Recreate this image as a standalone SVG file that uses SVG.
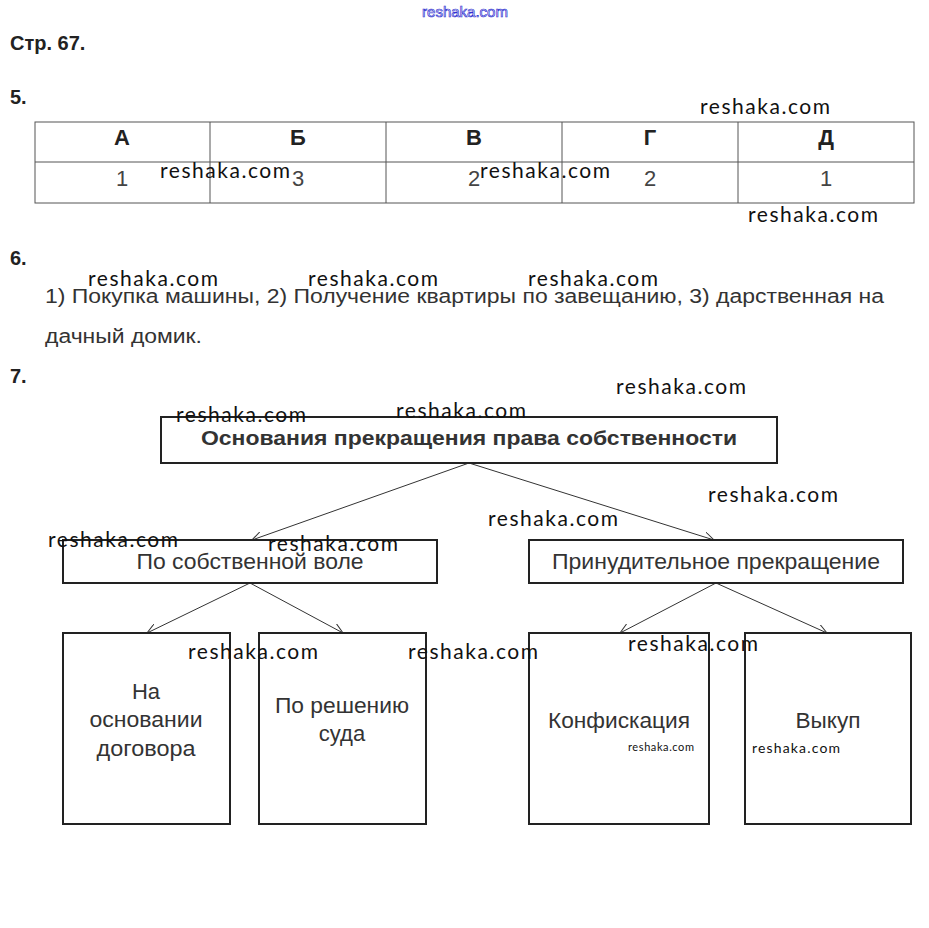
<svg xmlns="http://www.w3.org/2000/svg" width="929" height="928" viewBox="0 0 929 928">
<defs>
<style>
.h{font-family:"Liberation Sans",Arial,sans-serif;font-weight:bold;font-size:20px;fill:#222}
.t{font-family:"Liberation Sans",Arial,sans-serif;font-size:20px;fill:#333}
.th{font-family:"Liberation Sans",Arial,sans-serif;font-weight:bold;font-size:22px;fill:#222;text-anchor:middle}
.tv{font-family:"Liberation Sans",Arial,sans-serif;font-size:22px;fill:#444;text-anchor:middle}
.w{font-family:Lato,"Open Sans",sans-serif;fill:#111}
.box{fill:#fff;stroke:#222;stroke-width:2}
.grid{stroke:#555;stroke-width:1;fill:none}
.c{stroke:#333;stroke-width:1;fill:none}
.n{font-family:"Liberation Sans",Arial,sans-serif;font-size:22px;fill:#333;text-anchor:middle}
</style>
<marker id="ah" viewBox="0 0 10 10" refX="10" refY="5" markerWidth="10" markerHeight="10" markerUnits="userSpaceOnUse" orient="auto">
<path d="M0,0 L10,5 L0,10" fill="none" stroke="#333" stroke-width="1"/>
</marker>
</defs>
<rect width="929" height="928" fill="#fff"/>
<text x="465" y="17" text-anchor="middle" font-family="Liberation Sans,Arial,sans-serif" font-size="15" fill="#fff" stroke="#3030d0" stroke-width="0.7">reshaka.com</text>
<text class="h" x="10" y="50">Стр. 67.</text>
<text class="h" x="10" y="104">5.</text>
<g id="table">
<rect class="grid" x="35" y="122" width="879" height="81"/>
<line class="grid" x1="35" y1="162" x2="914" y2="162"/>
<line class="grid" x1="210" y1="122" x2="210" y2="203"/>
<line class="grid" x1="386" y1="122" x2="386" y2="203"/>
<line class="grid" x1="562" y1="122" x2="562" y2="203"/>
<line class="grid" x1="738" y1="122" x2="738" y2="203"/>
<text class="th" x="122" y="145">А</text>
<text class="th" x="298" y="145">Б</text>
<text class="th" x="474" y="145">В</text>
<text class="th" x="650" y="145">Г</text>
<text class="th" x="826" y="145">Д</text>
<text class="tv" x="122" y="186">1</text>
<text class="tv" x="298" y="186">3</text>
<text class="tv" x="474" y="186">2</text>
<text class="tv" x="650" y="186">2</text>
<text class="tv" x="826" y="186">1</text>
</g>
<text class="h" x="10" y="265">6.</text>
<text class="t" x="45" y="303" textLength="839" lengthAdjust="spacingAndGlyphs">1) Покупка машины, 2) Получение квартиры по завещанию, 3) дарственная на</text>
<text class="t" x="45" y="343" textLength="157" lengthAdjust="spacingAndGlyphs">дачный домик.</text>
<text class="h" x="10" y="383">7.</text>
<g id="connectors">
<line class="c" x1="469" y1="463" x2="252" y2="540" marker-end="url(#ah)"/>
<line class="c" x1="469" y1="463" x2="714" y2="540" marker-end="url(#ah)"/>
<line class="c" x1="250" y1="583" x2="147" y2="633" marker-end="url(#ah)"/>
<line class="c" x1="250" y1="583" x2="343" y2="633" marker-end="url(#ah)"/>
<line class="c" x1="716" y1="583" x2="620" y2="633" marker-end="url(#ah)"/>
<line class="c" x1="716" y1="583" x2="827" y2="633" marker-end="url(#ah)"/>
</g>
<g id="root">
<rect class="box" x="161" y="417" width="616" height="46"/>
<text x="469" y="445" text-anchor="middle" font-family="Liberation Sans,Arial,sans-serif" font-weight="bold" font-size="20" fill="#333" textLength="536" lengthAdjust="spacingAndGlyphs">Основания прекращения права собственности</text>
</g>
<g id="voluntary">
<rect class="box" x="63" y="540" width="374" height="43"/>
<text class="n" x="250" y="569" textLength="227" lengthAdjust="spacingAndGlyphs">По собственной воле</text>
</g>
<g id="forced">
<rect class="box" x="529" y="540" width="374" height="43"/>
<text class="n" x="716" y="569" textLength="328" lengthAdjust="spacingAndGlyphs">Принудительное прекращение</text>
</g>
<g id="contract">
<rect class="box" x="63" y="633" width="167" height="191"/>
<text class="n" x="146" y="699">На</text>
<text class="n" x="146" y="727" textLength="113" lengthAdjust="spacingAndGlyphs">основании</text>
<text class="n" x="146" y="756" textLength="99" lengthAdjust="spacingAndGlyphs">договора</text>
</g>
<g id="court">
<rect class="box" x="259" y="633" width="167" height="191"/>
<text class="n" x="342" y="713" textLength="134" lengthAdjust="spacingAndGlyphs">По решению</text>
<text class="n" x="342" y="741">суда</text>
</g>
<g id="confiscation">
<rect class="box" x="529" y="633" width="180" height="191"/>
<text class="n" x="619" y="728" textLength="142" lengthAdjust="spacingAndGlyphs">Конфискация</text>
</g>
<g id="buyout">
<rect class="box" x="745" y="633" width="166" height="191"/>
<text class="n" x="828" y="728" textLength="65" lengthAdjust="spacingAndGlyphs">Выкуп</text>
</g>
<g id="watermarks" font-size="21">
<text class="w" x="700" y="114" textLength="130">reshaka.com</text>
<text class="w" x="160" y="178" textLength="130">reshaka.com</text>
<text class="w" x="480" y="178" textLength="130">reshaka.com</text>
<text class="w" x="748" y="222" textLength="130">reshaka.com</text>
<text class="w" x="88" y="286" textLength="130">reshaka.com</text>
<text class="w" x="308" y="286" textLength="130">reshaka.com</text>
<text class="w" x="528" y="286" textLength="130">reshaka.com</text>
<text class="w" x="616" y="394" textLength="130">reshaka.com</text>
<text class="w" x="176" y="422" textLength="130">reshaka.com</text>
<text class="w" x="396" y="418" textLength="130">reshaka.com</text>
<text class="w" x="708" y="502" textLength="130">reshaka.com</text>
<text class="w" x="488" y="526" textLength="130">reshaka.com</text>
<text class="w" x="48" y="547" textLength="130">reshaka.com</text>
<text class="w" x="268" y="551" textLength="130">reshaka.com</text>
<text class="w" x="188" y="659" textLength="130">reshaka.com</text>
<text class="w" x="408" y="659" textLength="130">reshaka.com</text>
<text class="w" x="628" y="651" textLength="130">reshaka.com</text>
<text class="w" x="628" y="751" font-size="11" textLength="66">reshaka.com</text>
<text class="w" x="752" y="753" font-size="14" textLength="88">reshaka.com</text>
</g>
</svg>
